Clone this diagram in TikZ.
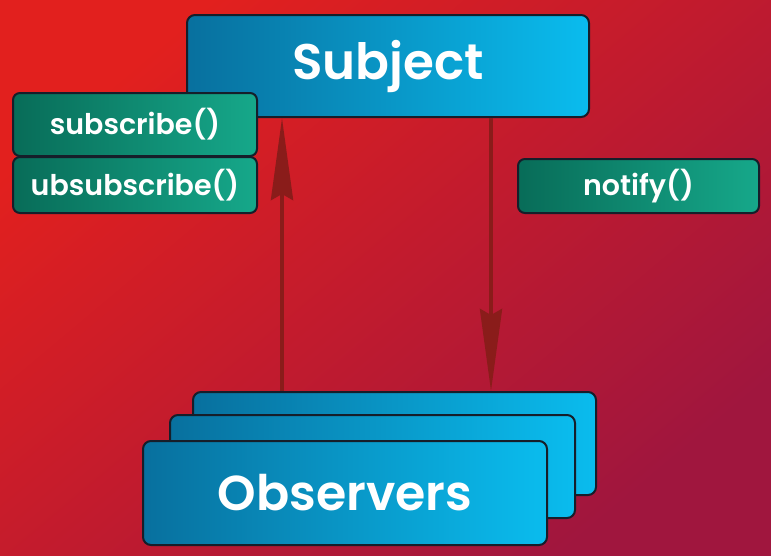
\documentclass[tikz,border=0pt]{standalone}
\usepackage{fontspec}
\setmainfont{Poppins}[BoldFont={Poppins SemiBold}]
\usetikzlibrary{arrows.meta}
\definecolor{bgA}{RGB}{226,32,30}
\definecolor{bgB}{RGB}{160,22,62}
\definecolor{blueL}{RGB}{8,112,158}
\definecolor{blueR}{RGB}{10,188,238}
\definecolor{greenL}{RGB}{8,108,88}
\definecolor{greenR}{RGB}{22,168,138}
\definecolor{edge}{RGB}{22,30,42}
\definecolor{arrcol}{RGB}{138,28,26}
\tikzset{
  bluebox/.style={draw=edge, line width=2pt, rounded corners=8pt, left color=blueL, right color=blueR,
    text=white, font=\bfseries, inner sep=0pt},
  greenbox/.style={draw=edge, line width=2pt, rounded corners=7pt, left color=greenL, right color=greenR,
    text=white, font=\bfseries\fontsize{28.5}{32}\selectfont, inner sep=0pt},
  conn/.style={draw=arrcol, line width=4pt, -{Stealth[length=82pt,width=22pt,inset=6pt]}},
}
\begin{document}
\begin{tikzpicture}[x=1pt,y=-1pt]
\shade[top color=bgA, bottom color=bgB, shading angle=40] (0,0) rectangle (771,555);
\useasboundingbox (0,0) rectangle (771,555);
% observers stack
\node[bluebox, minimum width=403pt, minimum height=103pt] (obs3) at (394.5,443.5) {};
\node[bluebox, minimum width=405pt, minimum height=103pt] (obs2) at (372.5,466.5) {};
\node[bluebox, minimum width=404pt, minimum height=104pt, font=\bfseries\fontsize{49}{54}\selectfont] (obs1) at (345,493) {Observers};
% subject
\node[bluebox, minimum width=402pt, minimum height=102pt, font=\bfseries\fontsize{50}{56}\selectfont] (subject) at (388,66) {\raisebox{-3pt}{Subject}};
% methods
\node[greenbox, minimum width=244pt, minimum height=63pt] (sub) at (135,124.5) {subscribe()};
\node[greenbox, minimum width=244pt, minimum height=56pt] (unsub) at (135,185) {ubsubscribe()};
\node[greenbox, minimum width=241pt, minimum height=54pt] (notify) at (638.5,186) {notify()};
% connectors
\draw[conn] ([xshift=90pt]obs3.north west) -- ([xshift=96pt]subject.south west);
\draw[conn] ([xshift=305pt]subject.south west) -- ([xshift=299pt]obs3.north west);
\end{tikzpicture}
\end{document}
